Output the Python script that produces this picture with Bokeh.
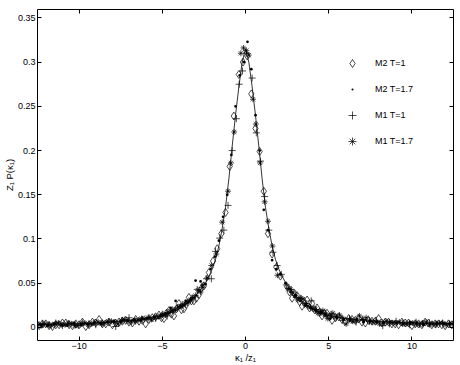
from bokeh.plotting import figure
from bokeh.models import LinearAxis, FixedTicker, Legend, LegendItem
from bokeh.embed import file_html
from bokeh.resources import INLINE

# ---- data ----
curve_x = [-12.5, -11, -10, -9, -8, -7, -6, -5, -4.5, -4, -3.5, -3, -2.7, -2.4, -2.2, -2.0,
           -1.8, -1.6, -1.4, -1.2, -1.0, -0.8, -0.6, -0.4, -0.2, 0, 0.2, 0.4, 0.6, 0.8, 1.0,
           1.2, 1.4, 1.6, 1.8, 2.0, 2.2, 2.4, 2.7, 3, 3.5, 4, 4.5, 5, 6, 7, 8, 9, 10, 11, 12.5]
curve_y = [0.0033, 0.0038, 0.0043, 0.0050, 0.0060, 0.0074, 0.0095, 0.0132, 0.0165, 0.0208,
           0.0275, 0.0355, 0.0425, 0.0505, 0.0575, 0.0660, 0.0770, 0.0920, 0.1120, 0.1360,
           0.1680, 0.2050, 0.2400, 0.2720, 0.3000, 0.3150, 0.3000, 0.2720, 0.2400, 0.2050,
           0.1680, 0.1360, 0.1120, 0.0920, 0.0770, 0.0660, 0.0580, 0.0510, 0.0430, 0.0360,
           0.0280, 0.0212, 0.0170, 0.0136, 0.0100, 0.0080, 0.0066, 0.0057, 0.0050, 0.0045, 0.0039]

# M2 T=1 (diamonds)
x_m2_t1 = [-12.4, -12.0, -11.6, -11.2, -10.8, -10.4, -10.0, -9.6, -9.2, -8.8, -8.4, -8.0, -7.6, -7.2,
           -6.8, -6.4, -6.0, -5.6, -5.2, -4.9, -4.6, -4.3, -4.0, -3.7, -3.4, -3.1, -2.8, -2.5,
           -2.2, -1.95, -1.7, -1.45, -1.2, -0.95, -0.7, -0.4, -0.15, 0.1, 0.35, 0.6, 0.85, 1.1,
           1.35, 1.6, 1.85, 2.1,
           2.5, 2.8, 3.1, 3.4, 3.7, 4.0, 4.3, 4.6, 4.9, 5.2, 5.6, 6.0, 6.4, 6.8, 7.2, 7.6, 8.0,
           8.4, 8.8, 9.2, 9.6, 10.0, 10.4, 10.8, 11.2, 11.6, 12.0, 12.4,
           -12.2, -11.8, -11.4, -11.0, -10.6, -10.2, -9.8, -9.4, -9.0, -8.6, -8.2, -7.8, -7.4, -7.0,
           -6.6, -6.2, -5.8, -5.4, -5.05, -4.75, -4.45, -4.15, -3.85, -3.55, -3.25, -2.95, -2.65,
           2.65, 2.95, 3.25, 3.55, 3.85, 4.15, 4.45, 4.75, 5.05, 5.4, 5.8, 6.2, 6.6, 7.0, 7.4, 7.8,
           8.2, 8.6, 9.0, 9.4, 9.8, 10.2, 10.6, 11.0, 11.4, 11.8, 12.2]
y_m2_t1 = [0.002, 0.004, 0.001, 0.003, 0.005, 0.002, 0.003, 0.001, 0.006, 0.009, 0.004, 0.003, 0.006,
           0.008, 0.005, 0.007, 0.004, 0.011, 0.014, 0.010, 0.019, 0.013, 0.027, 0.021, 0.034, 0.030,
           0.037, 0.047,
           0.062, 0.075, 0.089, 0.106, 0.130, 0.182, 0.239, 0.286, 0.300, 0.307, 0.264, 0.225, 0.199,
           0.154, 0.106, 0.083, 0.068, 0.058,
           0.046, 0.033, 0.036, 0.024, 0.031, 0.027, 0.022, 0.013, 0.016, 0.008, 0.012, 0.007, 0.009,
           0.010, 0.005, 0.007, 0.010, 0.006, 0.004, 0.003, 0.005, 0.002, 0.004, 0.006, 0.003, 0.004,
           0.002, 0.003,
           0.004, 0.002, 0.003, 0.005, 0.003, 0.004, 0.006, 0.003, 0.005, 0.004, 0.006, 0.005, 0.007,
           0.006, 0.009, 0.008, 0.009, 0.012, 0.011, 0.016, 0.015, 0.021, 0.020, 0.026, 0.030, 0.033,
           0.044,
           0.040, 0.038, 0.029, 0.027, 0.022, 0.020, 0.017, 0.016, 0.012, 0.011, 0.009, 0.010, 0.008,
           0.006, 0.008, 0.007, 0.005, 0.006, 0.004, 0.006, 0.005, 0.004, 0.003, 0.005, 0.004, 0.003,
           0.004]

# M2 T=1.7 (dots)
x_m2_t17 = [-12.3, -11.9, -11.5, -11.1, -10.7, -10.3, -9.9, -9.5, -9.1, -8.7, -8.3, -7.9, -7.5, -7.1,
            -6.7, -6.3, -5.9, -5.5, -5.1, -4.8, -4.5, -4.2, -3.9, -3.6, -3.3, -3.0, -2.7, -2.4,
            -2.1, -1.85, -1.6, -1.35, -1.1, -0.85, -0.6, -0.35, -0.1, 0.12, 0.35, 0.6, 0.85, 1.1,
            1.35, 1.6, 1.85, 2.1,
            2.4, 2.7, 3.0, 3.3, 3.6, 3.9, 4.2, 4.5, 4.8, 5.1, 5.5, 5.9, 6.3, 6.7, 7.1, 7.5, 7.9,
            8.3, 8.7, 9.1, 9.5, 9.9, 10.3, 10.7, 11.1, 11.5, 11.9, 12.3]
y_m2_t17 = [0.003, 0.002, 0.004, 0.003, 0.002, 0.005, 0.003, 0.004, 0.005, 0.004, 0.006, 0.007, 0.006,
            0.008, 0.009, 0.008, 0.010, 0.012, 0.013, 0.016, 0.022, 0.030, 0.024, 0.030, 0.031, 0.053,
            0.052, 0.049,
            0.066, 0.080, 0.098, 0.125, 0.150, 0.195, 0.250, 0.285, 0.300, 0.323, 0.292, 0.240, 0.200,
            0.133, 0.110, 0.076, 0.066, 0.060,
            0.050, 0.040, 0.036, 0.030, 0.025, 0.022, 0.019, 0.016, 0.015, 0.010, 0.011, 0.009, 0.008,
            0.009, 0.006, 0.007, 0.006, 0.005, 0.006, 0.005, 0.004, 0.006, 0.005, 0.003, 0.004, 0.005,
            0.004, 0.004]

# M1 T=1 (plus)
x_m1_t1 = [-12.2, -11.8, -11.4, -11.0, -10.6, -10.2, -9.8, -9.4, -9.0, -8.6, -8.2, -7.8, -7.4, -7.0,
           -6.6, -6.2, -5.8, -5.4, -5.0, -4.7, -4.4, -4.1, -3.8, -3.5, -3.2, -2.9, -2.6, -2.35,
           -2.05, -1.8, -1.55, -1.3, -1.05, -0.8, -0.55, -0.38, -0.18, 0.05, 0.4, 0.65, 0.9, 1.15,
           1.4, 1.65, 1.9, 2.15,
           2.45, 2.75, 3.05, 3.35, 3.65, 3.95, 4.25, 4.55, 4.85, 5.15, 5.45, 5.85, 6.25, 6.65, 7.05,
           7.45, 7.85, 8.25, 8.65, 9.05, 9.45, 9.85, 10.25, 10.65, 11.05, 11.45, 11.85, 12.25]
y_m1_t1 = [0.004, 0.003, 0.005, 0.002, 0.004, 0.003, 0.005, 0.004, 0.003, 0.005, 0.006, 0.001, 0.008,
           0.011, 0.007, 0.009, 0.011, 0.010, 0.015, 0.013, 0.020, 0.022, 0.026, 0.028, 0.033, 0.043,
           0.045, 0.055,
           0.055, 0.086, 0.101, 0.110, 0.138, 0.200, 0.236, 0.275, 0.290, 0.310, 0.282, 0.220, 0.188,
           0.148, 0.110, 0.085, 0.070, 0.060,
           0.048, 0.043, 0.034, 0.033, 0.027, 0.030, 0.020, 0.017, 0.013, 0.015, 0.011, 0.008, 0.010,
           0.006, 0.009, 0.007, 0.008, 0.002, 0.004, 0.007, 0.005, 0.003, 0.006, 0.004, 0.005, 0.003,
           0.005, 0.004]

# M1 T=1.7 (asterisks)
x_m1_t17 = [-12.45, -12.05, -11.65, -11.25, -10.85, -10.45, -10.05, -9.65, -9.25, -8.85, -8.45, -8.05,
            -7.65, -7.25, -6.85, -6.45, -6.05, -5.65, -5.25, -4.95, -4.65, -4.35, -4.05, -3.75, -3.45,
            -3.15, -2.85, -2.55,
            -2.3, -2.05, -1.75, -1.4, -1.05, -0.88, -0.68, -0.28, -0.12, 0.05, 0.2, 0.45, 0.62, 0.88,
            1.15, 1.35, 1.62, 1.92,
            2.55, 2.85, 3.15, 3.45, 3.75, 4.05, 4.35, 4.65, 4.95, 5.25, 5.65, 6.05, 6.45, 6.85, 7.25,
            7.65, 8.05, 8.45, 8.85, 9.25, 9.65, 10.05, 10.45, 10.85, 11.25, 11.65, 12.05, 12.45,
            -12.25, -11.85, -11.45, -11.05, -10.65, -10.25, -9.85, -9.45, -9.05, -8.65, -8.25, -7.85,
            -7.45, -7.05, -6.65, -6.25, -5.85, -5.45, -5.1, -4.8, -4.5, -4.2, -3.9, -3.6, -3.3, -3.0,
            -2.7,
            2.7, 3.0, 3.3, 3.6, 3.9, 4.2, 4.5, 4.8, 5.1, 5.45, 5.85, 6.25, 6.65, 7.05, 7.45, 7.85,
            8.25, 8.65, 9.05, 9.45, 9.85, 10.25, 10.65, 11.05, 11.45, 11.85, 12.25]
y_m1_t17 = [0.003, 0.004, 0.002, 0.005, 0.003, 0.004, 0.002, 0.005, 0.004, 0.006, 0.005, 0.007, 0.004,
            0.009, 0.006, 0.008, 0.010, 0.009, 0.012, 0.015, 0.017, 0.019, 0.023, 0.025, 0.029, 0.034,
            0.042, 0.048,
            0.056, 0.070, 0.083, 0.119, 0.154, 0.186, 0.221, 0.310, 0.316, 0.313, 0.308, 0.258, 0.230,
            0.186, 0.142, 0.120, 0.092, 0.059,
            0.044, 0.039, 0.031, 0.032, 0.024, 0.021, 0.016, 0.019, 0.010, 0.016, 0.014, 0.004, 0.007,
            0.013, 0.011, 0.006, 0.004, 0.007, 0.005, 0.006, 0.004, 0.005, 0.003, 0.006, 0.004, 0.005,
            0.003, 0.004,
            0.002, 0.003, 0.004, 0.003, 0.005, 0.002, 0.004, 0.003, 0.006, 0.004, 0.007, 0.006, 0.008,
            0.007, 0.008, 0.010, 0.011, 0.012, 0.013, 0.014, 0.018, 0.020, 0.024, 0.027, 0.031, 0.036,
            0.040,
            0.043, 0.036, 0.033, 0.027, 0.023, 0.020, 0.018, 0.015, 0.013, 0.012, 0.010, 0.009, 0.008,
            0.009, 0.007, 0.006, 0.005, 0.006, 0.005, 0.004, 0.005, 0.004, 0.005, 0.003, 0.004, 0.005,
            0.004]

series_labels = ["M2 T=1", "M2 T=1.7", "M1 T=1", "M1 T=1.7"]
x_ticks = [-10, -5, 0, 5, 10]
x_tick_labels = ["\u221210", "\u22125", "0", "5", "10"]
y_ticks = [0, 0.05, 0.1, 0.15, 0.2, 0.25, 0.3, 0.35]
y_tick_labels = ["0", "0.05", "0.1", "0.15", "0.2", "0.25", "0.3", "0.35"]
x_title = "\u03ba\u2081 /z\u2081"
y_title = "Z\u2081 P(\u03ba\u2081)"

FONT = "Liberation Sans"
INK = "#000000"

p = figure(width=460, height=365, x_range=(-12.5, 12.5), y_range=(-0.0148, 0.3595),
           output_backend="svg", toolbar_location=None,
           min_border_left=0, min_border_right=7, min_border_top=9, min_border_bottom=0,
           x_axis_label=x_title, y_axis_label=y_title)
p.grid.visible = False
p.outline_line_color = INK
p.outline_line_width = 1
p.background_fill_color = "white"
p.border_fill_color = "white"

p.line(curve_x, curve_y, line_color=INK, line_width=0.8)

r1 = p.scatter(x_m2_t1, y_m2_t1, marker="diamond", size=8, fill_color=None,
               line_color=INK, line_width=0.7)
r2 = p.scatter(x_m2_t17, y_m2_t17, marker="dot", size=11, line_color=INK, line_width=1)
r3 = p.scatter(x_m1_t1, y_m1_t1, marker="cross", size=7, line_color=INK, line_width=0.7)
r4 = p.scatter(x_m1_t17, y_m1_t17, marker="asterisk", size=6, line_color=INK, line_width=0.7)

def style_axis(ax, ticks, labels, show_labels):
    ax.ticker = FixedTicker(ticks=ticks)
    ax.major_label_overrides = {t: l for t, l in zip(ticks, labels)}
    ax.major_tick_in = 4
    ax.major_tick_out = 0
    ax.minor_tick_line_color = None
    ax.major_tick_line_color = INK
    ax.axis_line_color = None
    ax.major_label_text_font = FONT
    ax.major_label_text_line_height = 1.0
    ax.axis_label_standoff = 0
    ax.axis_label_text_font = FONT
    ax.axis_label_text_font_style = "normal"
    ax.axis_label_text_color = INK
    ax.axis_label_text_font_size = "9.5px"
    ax.axis_label_text_line_height = 1.0
    if show_labels:
        ax.major_label_text_color = INK
        ax.major_label_text_font_size = "9px"
        ax.major_label_standoff = 2
    else:
        ax.major_label_text_color = None
        ax.major_label_text_font_size = "1px"
        ax.major_label_standoff = 0

style_axis(p.xaxis[0], x_ticks, x_tick_labels, True)
style_axis(p.yaxis[0], y_ticks, y_tick_labels, True)

top = LinearAxis()
right = LinearAxis()
p.add_layout(top, "above")
p.add_layout(right, "right")
style_axis(top, x_ticks, [""] * len(x_ticks), False)
style_axis(right, y_ticks, [""] * len(y_ticks), False)

legend = Legend(items=[LegendItem(label=lab, renderers=[r]) for lab, r in
                       zip(series_labels, [r1, r2, r3, r4])],
                location=(305, 189), border_line_color=None, background_fill_alpha=0,
                label_text_font=FONT, label_text_font_size="9px", label_text_color=INK,
                glyph_width=20, glyph_height=20, spacing=6, padding=0, margin=0,
                label_standoff=13, label_height=20)
p.add_layout(legend)

open("out.html", "w").write(file_html(p, INLINE))
